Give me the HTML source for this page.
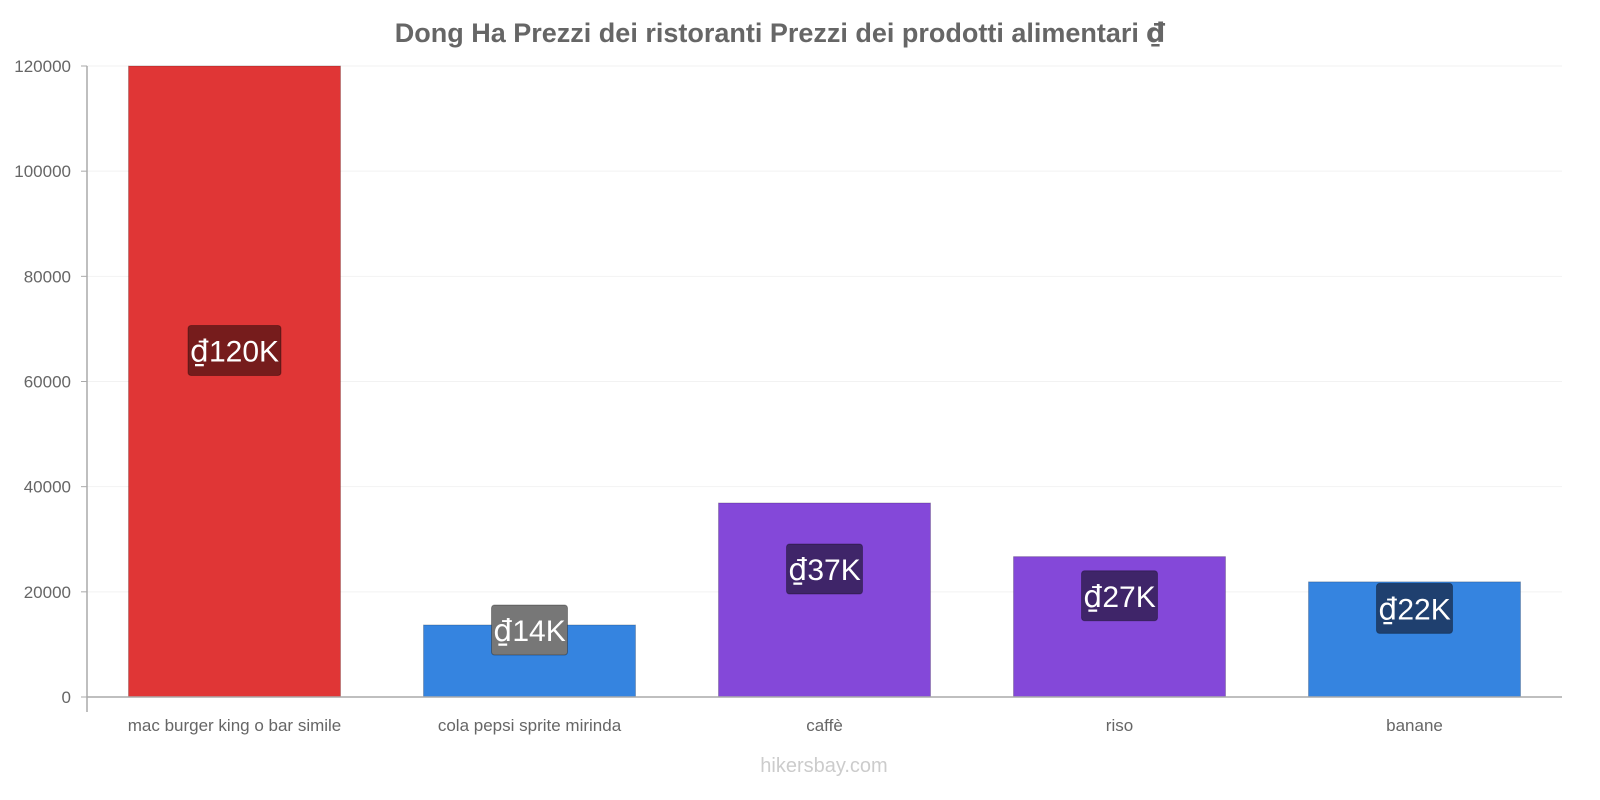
<!DOCTYPE html>
<html><head><meta charset="utf-8"><style>
html,body{margin:0;background:#fff;font-family:"Liberation Sans",Arial,sans-serif;width:1600px;height:800px;overflow:hidden}
svg{display:block}
.d{font-family:"DejaVu Sans",sans-serif}
</style></head><body>
<svg id="chart" width="1600" height="800" viewBox="0 0 1600 800">
<text x="780" y="42" text-anchor="middle" font-size="27" font-weight="bold" fill="#666">Dong Ha Prezzi dei ristoranti Prezzi dei prodotti alimentari <tspan class="d">₫</tspan></text>
<g id="grid"></g><g id="bars"></g><g id="axes"></g>
<text x="824" y="772" text-anchor="middle" font-size="20" fill="#ccc">hikersbay.com</text>
</svg>
<script>
const categories=["mac burger king o bar simile","cola pepsi sprite mirinda","caffè","riso","banane"];
const values=[120000,13700,36900,26700,21900];
const labels=["120K","14K","37K","27K","22K"];
const ticks=[0,20000,40000,60000,80000,100000,120000];
const colors=["#e03636","#3584e0","#8448d9","#8448d9","#3584e0"];
const labelBg=["#761c1c","#777777","#3f2569","#3f2569","#1f406f"];
const NS="http://www.w3.org/2000/svg";
const L=87,R=1562,Y0=697,Y1=66,MAX=120000;
const y=v=>Y0-(v/MAX)*(Y0-Y1);
const step=(R-L)/categories.length;
const x=i=>L+step*(i+0.5);
function mk(t,a,p){const e=document.createElementNS(NS,t);for(const k in a)e.setAttribute(k,a[k]);p.appendChild(e);return e;}
const grid=document.getElementById('grid'),bars=document.getElementById('bars'),axes=document.getElementById('axes');
ticks.forEach(t=>{
 const g=mk('line',{x1:L,x2:R,y1:y(t),y2:y(t),stroke:'#f2f2f2'},grid);
 
 
 mk('line',{x1:L-6,x2:L,y1:y(t),y2:y(t),stroke:'#aaa'},axes);
 const tx=mk('text',{x:L-16,y:y(t)+6,'text-anchor':'end','font-size':17,fill:'#666'},axes);
 tx.textContent=t;
 
 
});
mk('line',{x1:L,x2:L,y1:Y1,y2:712,stroke:'#aaa','stroke-width':1.5},axes);
mk('line',{x1:L,x2:R,y1:Y0,y2:Y0,stroke:'#aaa','stroke-width':1.5},axes);
categories.forEach((c,i)=>{
 const w=212,cx=x(i),top=y(values[i]);
 const b=mk('rect',{x:cx-w/2,y:top,width:w,height:Y0-top,fill:colors[i],stroke:'rgba(0,0,0,0.2)'},bars);
 
 
 const ly=(top+Y0)/2-31;
 const lw=(labels[i].length+1)*17+8;
 const lb=mk('rect',{x:cx-lw/2,y:ly-25,width:lw,height:50,rx:3,fill:labelBg[i],stroke:'rgba(0,0,0,0.3)'},bars);
 
 
 const lt=mk('text',{x:cx,y:ly+11,'text-anchor':'middle','font-size':30,fill:'#fff'},bars);
 const sp=mk('tspan',{'class':'d'},lt);
 sp.textContent='₫';
 lt.appendChild(document.createTextNode(labels[i]));
 
 
 const ct=mk('text',{x:cx,y:731,'text-anchor':'middle','font-size':17,fill:'#666'},axes);
 ct.textContent=c;
 
 
});
</script>
</body></html>
